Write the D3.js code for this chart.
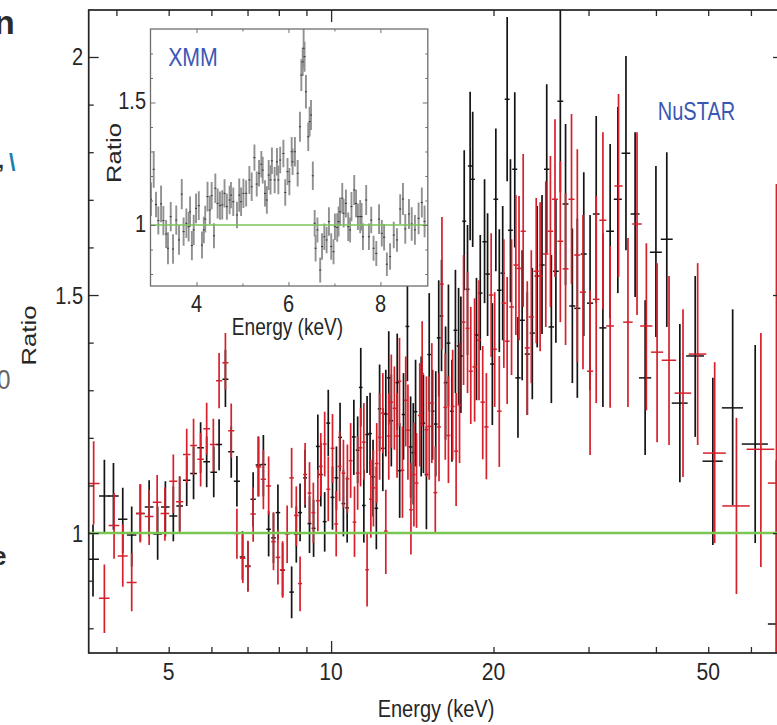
<!DOCTYPE html>
<html><head><meta charset="utf-8">
<script src="https://cdn.jsdelivr.net/npm/d3@7/dist/d3.min.js"></script>
<style>html,body{margin:0;padding:0;background:#fff}svg{display:block}text{font-family:"Liberation Sans",Arial,sans-serif}</style>
</head><body><svg id="c" width="777" height="725"></svg>
<script>
const blackEnergy=[3.62,3.80,3.95,4.11,4.27,4.43,4.60,4.77,4.93,5.10,
5.24,5.40,5.56,5.73,5.88,6.06,6.20,6.37,6.53,6.69,
6.85,7.01,7.17,7.33,7.49,7.66,7.82,7.97,8.13,8.45,
8.62,8.76,8.95,9.12,9.28,9.45,9.57,9.73,9.88,10.06,
10.23,10.39,10.54,10.71,11.02,11.2,11.35,11.5,11.66,11.81,
11.96,12.13,12.3,12.47,12.63,12.79,12.93,13.26,13.4,13.62,
13.85,14.04,14.2,14.34,14.69,14.83,15.02,15.2,15.42,15.63,
15.83,16.02,16.3,16.5,16.75,17,17.23,17.4,17.65,17.9,
18.1,18.3,18.6,18.9,19.25,19.5,19.9,20.2,20.5,20.8,
21.2,21.5,21.9,22.2,22.6,23.1,23.6,24.1,24.6,25.1,
25.6,26.1,26.6,27.2,28,28.6,29.4,30.2,31,31.9,
32.9,34,35.2,36.6,38.2,40,41.9,44.3,47.3,51,
55.5,61.1,66.9];
const blackRatio=[.945,1.078,1.078,1.029,.996,1.041,1.055,.998,1.055,1.036,
1.057,1.111,1.125,1.179,1.15,1.128,1.186,1.323,1.171,1.109,
.95,.931,1.071,1.143,1.144,1.008,.99,1.043,.922,.876,
.998,1.043,1.116,1.02,1.01,1.182,1.123,1.024,1.231,1.075,
1.116,1.201,1.062,1.053,1.202,1.174,1.306,1.058,1.207,1.209,
1.118,1.052,1.261,1.178,1.25,1.326,1.236,1.316,1.131,1.249,
1.434,1.181,1.169,1.255,1.231,1.231,1.123,1.375,1.256,1.229,
1.41,1.456,1.316,1.399,1.256,1.426,1.393,1.372,1.655,1.512,
1.771,1.743,1.416,1.504,1.612,1.544,1.355,1.701,1.51,1.546,
1.911,1.636,1.764,1.326,1.447,1.376,1.42,1.54,1.563,1.764,
1.433,1.55,1.907,1.691,1.477,1.472,1.586,1.483,1.67,1.431,
1.634,1.701,1.798,1.67,1.326,1.59,1.617,1.273,1.372,1.151,
1.263,1.187,.809];
const blackHigh=[1.018,1.154,1.147,1.095,1.056,1.102,1.111,1.056,1.109,1.098,
1.119,1.161,1.182,1.233,1.203,1.182,1.239,1.385,1.224,1.162,
1.004,.983,1.128,1.203,1.206,1.046,1.042,1.102,.979,.93,
1.056,1.104,1.175,1.077,1.07,1.249,1.189,1.086,1.301,1.14,
1.182,1.274,1.133,1.119,1.28,1.245,1.389,1.133,1.288,1.295,
1.196,1.14,1.354,1.263,1.343,1.424,1.333,1.419,1.231,1.336,
1.547,1.287,1.273,1.364,1.371,1.333,1.224,1.504,1.343,1.34,
1.531,1.574,1.434,1.522,1.364,1.553,1.515,1.497,1.804,1.647,
1.927,1.885,1.536,1.626,1.743,1.672,1.483,1.85,1.638,1.687,
2.084,1.785,1.926,1.454,1.594,1.506,1.557,1.687,1.71,1.943,
1.584,1.701,2.1,1.859,1.64,1.661,1.758,1.668,1.876,1.63,
1.817,1.895,2.002,1.842,1.489,1.771,1.8,1.439,1.54,1.326,
1.47,1.395,1.153];
const blackLow=[.867,1.001,1.007,.958,.93,.983,.993,.944,.993,.983,
1.004,1.057,1.071,1.126,1.096,1.075,1.132,1.265,1.116,1.056,
.902,.878,1.014,1.077,1.077,.951,.937,.986,.867,.821,
.938,.983,1.053,.958,.95,1.116,1.056,.961,1.162,1.007,
1.049,1.13,.993,.98,1.122,1.105,1.224,.98,1.126,1.122,
1.035,.966,1.172,1.088,1.161,1.228,1.14,1.217,1.032,1.154,
1.319,1.074,1.06,1.14,1.119,1.126,1.008,1.256,1.154,1.119,
1.287,1.34,1.196,1.266,1.15,1.294,1.27,1.252,1.51,1.374,
1.615,1.601,1.279,1.384,1.483,1.414,1.227,1.55,1.38,1.405,
1.739,1.485,1.6,1.2,1.321,1.248,1.281,1.39,1.418,1.588,
1.273,1.4,1.716,1.521,1.315,1.284,1.414,1.3,1.483,1.265,
1.451,1.504,1.594,1.496,1.164,1.412,1.433,1.107,1.202,.975,
1.059,.979,.733];
const blackHalfWidth=[.093,.086,.09,.082,.085,.082,.085,.088,.09,.087,
.075,.085,.08,.08,.084,.086,.08,.082,.084,.086,
.079,.08,.082,.084,.085,.075,.077,.078,.08,.083,
.085,.075,.075,.076,.078,.08,.08,.08,.082,.084,
.085,.085,.085,.086,.087,.088,.088,.09,.09,.09,
.095,.095,.095,.095,.1,.1,.1,.1,.1,.105,
.11,.11,.11,.11,.115,.115,.115,.12,.12,.12,
.13,.13,.13,.135,.135,.14,.14,.145,.15,.15,
.17,.17,.17,.18,.18,.19,.19,.2,.2,.2,
.22,.22,.23,.25,.25,.25,.26,.27,.28,.29,
.3,.32,.33,.34,.36,.37,.38,.4,.44,.48,
.55,.58,.65,.7,1,1.02,1.07,1.5,1.8,2.2,
2.5,3.4,2.4];

const redEnergy=[3.63,3.80,3.96,4.11,4.27,4.43,4.60,4.76,4.92,5.10,
5.24,5.40,5.56,5.73,5.88,6.05,6.20,6.37,6.53,6.69,
6.86,7.01,7.17,7.34,7.49,7.66,7.82,7.97,8.13,8.29,
8.45,8.62,8.76,8.95,9.12,9.27,9.45,9.57,9.73,9.88,
10.06,10.22,10.37,10.54,10.72,10.87,11.05,11.2,11.34,11.5,
11.66,11.85,11.98,12.15,12.3,12.47,12.63,12.79,12.93,13.1,
13.25,13.39,13.56,13.75,13.88,14.06,14.24,14.4,14.6,14.75,
15.02,15.2,15.37,15.6,15.85,16.05,16.28,16.5,16.8,17.05,
17.3,17.6,17.9,18.15,18.45,18.8,19.1,19.4,19.8,20.1,
20.5,20.9,21.2,21.6,22,22.3,22.7,23.1,23.5,24,
24.4,25,25.5,26,26.6,27.2,27.9,28.6,29.3,30.2,
31,31.9,32.9,34.1,35.5,36.9,38.4,40.2,42.3,44.9,
47.8,51.4,56.4,62.6,66.9];
const redRatio=[1.104,.863,1.016,.952,.896,1.041,1.035,1.065,1.041,1.109,
1.066,1.165,1.184,1.155,1.219,1.186,1.32,1.358,1.215,.999,
.947,.93,1.04,1.139,1.113,1.099,.982,.949,.923,.998,
1.116,1.037,.894,1.123,1.084,1.043,1.068,1.14,1.187,1.092,
1.178,1.019,1.14,1.126,1.114,1.152,1.023,1.126,1.179,1.191,
.923,1.071,1.095,1.146,1.201,1.252,1.004,1.204,1.275,1.262,
1.204,1.319,1.132,1.279,1.216,1.049,1.123,1.105,1.247,1.335,
1.217,1.224,1.273,1.085,1.223,1.523,1.264,1.205,1.266,1.172,
1.269,1.443,1.43,1.34,1.349,1.405,1.275,1.223,1.5,1.386,
1.256,1.483,1.403,1.475,1.563,1.556,1.634,1.389,1.454,1.55,
1.54,1.586,1.634,1.701,1.613,1.555,1.701,1.584,1.506,1.34,
1.491,1.657,1.435,1.729,1.443,1.649,1.435,1.38,1.363,1.294,
1.376,1.168,1.057,1.176,1.105];
const redHigh=[1.193,.934,1.084,1.018,.958,1.103,1.091,1.122,1.096,1.165,
1.119,1.219,1.24,1.21,1.274,1.24,1.378,1.42,1.272,1.051,
.999,.984,1.096,1.202,1.175,1.161,1.044,1.007,.983,1.058,
1.179,1.098,.951,1.189,1.149,1.106,1.133,1.21,1.255,1.161,
1.25,1.088,1.214,1.196,1.186,1.231,1.098,1.203,1.263,1.273,
1.0,1.154,1.175,1.231,1.294,1.336,1.091,1.294,1.375,1.35,
1.294,1.41,1.224,1.371,1.312,1.147,1.231,1.21,1.357,1.445,
1.329,1.329,1.399,1.182,1.336,1.664,1.378,1.329,1.385,1.294,
1.399,1.584,1.549,1.475,1.493,1.531,1.393,1.336,1.63,1.506,
1.372,1.617,1.538,1.617,1.71,1.708,1.796,1.529,1.594,1.704,
1.695,1.739,1.792,1.869,1.781,1.714,1.88,1.806,1.668,1.51,
1.708,1.842,1.603,1.922,1.62,1.842,1.609,1.567,1.54,1.47,
1.567,1.359,1.242,1.42,1.733];
const redLow=[1.018,.79,.946,.887,.836,.98,.975,1.001,.984,1.042,
1.001,1.105,1.122,1.098,1.165,1.13,1.262,1.301,1.158,.946,
.895,.877,.982,1.077,1.05,1.039,.922,.892,.864,.937,
1.053,.973,.836,1.059,1.021,.979,1.004,1.077,1.119,1.025,
1.105,.951,1.067,1.053,1.042,1.074,.95,1.049,1.098,1.112,
.846,.99,1.014,1.063,1.112,1.168,.914,1.112,1.179,1.175,
1.116,1.224,1.032,1.182,1.112,.955,1.014,1.011,1.14,1.224,
1.119,1.112,1.147,1.0,1.109,1.385,1.154,1.105,1.154,1.057,
1.147,1.311,1.294,1.229,1.234,1.279,1.155,1.113,1.37,1.265,
1.139,1.347,1.271,1.332,1.416,1.405,1.475,1.248,1.315,1.399,
1.382,1.433,1.475,1.538,1.443,1.395,1.523,1.359,1.344,1.164,
1.273,1.47,1.263,1.538,1.265,1.458,1.258,1.191,1.185,1.118,
1.185,.979,.872,.929,.69];
const redHalfWidth=[.093,.086,.09,.088,.09,.082,.085,.088,.09,.087,
.08,.085,.08,.08,.084,.086,.08,.082,.084,.086,
.079,.08,.082,.084,.085,.08,.077,.078,.08,.083,
.083,.085,.075,.075,.076,.078,.08,.08,.08,.082,
.084,.085,.085,.085,.086,.087,.088,.088,.09,.09,
.09,.095,.095,.095,.095,.1,.1,.1,.1,.1,
.105,.105,.11,.11,.11,.11,.11,.115,.115,.115,
.12,.12,.125,.13,.13,.13,.135,.135,.14,.14,
.145,.15,.15,.16,.17,.17,.18,.18,.19,.19,
.2,.2,.22,.22,.23,.25,.25,.25,.26,.27,
.28,.29,.3,.32,.33,.34,.36,.37,.38,.4,
.44,.48,.55,.6,.72,.75,1,1.05,1.3,1.6,
1.8,2.5,3.3,3.7,2.4];

const insetEnergy=[3.01,3.07,3.12,3.17,3.23,3.28,3.34,3.38,3.44,3.49,
3.56,3.62,3.68,3.72,3.78,3.83,3.86,3.90,3.94,3.99,
4.05,4.12,4.16,4.19,4.24,4.29,4.33,4.38,4.41,4.46,
4.51,4.56,4.61,4.66,4.72,4.75,4.80,4.88,4.93,4.97,
5.02,5.08,5.15,5.20,5.26,5.31,5.36,5.41,5.44,5.49,
5.53,5.57,5.61,5.64,5.70,5.75,5.78,5.82,5.89,5.93,
5.98,6.02,6.07,6.09,6.14,6.20,6.25,6.28,6.31,6.33,
6.35,6.38,6.43,6.46,6.49,6.53,6.57,6.59,6.63,6.69,
6.73,6.78,6.83,6.88,6.93,6.98,7.01,7.06,7.09,7.12,
7.17,7.20,7.25,7.30,7.34,7.37,7.43,7.47,7.51,7.56,
7.59,7.62,7.69,7.75,7.80,7.85,7.91,7.97,8.03,8.08,
8.14,8.21,8.29,8.36,8.43,8.49,8.54,8.62,8.68,8.75,
8.83,8.90,8.96];
const insetRatio=[1.105,1.227,1.084,1.018,1.086,1.018,.963,.905,1.034,.902,
1.02,.939,1.126,.973,1.007,.993,1.054,.916,.98,1.068,
1.079,.918,.98,1.024,1.116,1.061,1.12,.956,1.15,1.088,
1.079,1.082,1.129,1.075,1.102,1.122,1.095,1.041,1.122,1.095,
1.129,1.129,1.184,1.156,1.275,1.167,1.211,1.248,1.224,1.129,
1.102,1.204,1.184,1.262,1.184,1.258,1.184,1.265,1.292,1.133,
1.218,1.177,1.299,1.258,1.299,1.211,1.401,1.612,1.666,1.721,
1.687,1.544,1.36,1.422,1.449,1.201,1.007,.905,.98,.816,
.912,.952,.939,1.014,.912,.891,.993,.99,1.014,1.054,
1.109,1.048,1.088,.993,.98,1.075,1.143,1.088,1.034,1.034,
1.034,.952,1.102,.952,1.02,.905,.884,1.024,.966,.95,
.84,.871,.959,.939,1.065,1.106,.984,1.045,1.004,.98,
1.027,1.092,1.015];
const insetError=[.068,.075,.052,.057,.075,.06,.057,.065,.06,.06,
.06,.06,.062,.058,.06,.06,.062,.06,.062,.061,
.059,.055,.054,.055,.061,.058,.056,.051,.06,.061,
.058,.06,.058,.054,.058,.054,.058,.054,.068,.058,
.06,.054,.057,.058,.054,.051,.054,.054,.055,.054,
.056,.061,.06,.054,.054,.056,.058,.054,.056,.054,
.055,.056,.06,.054,.06,.054,.061,.065,.058,.08,
.061,.068,.058,.061,.061,.058,.054,.054,.051,.051,
.054,.054,.054,.058,.054,.051,.054,.058,.061,.058,
.062,.058,.057,.058,.051,.06,.061,.056,.054,.068,
.056,.054,.061,.054,.054,.051,.051,.061,.054,.054,
.048,.054,.054,.048,.061,.065,.061,.061,.068,.061,
.065,.061,.065];

const mainXMajor=[10];
const mainXMinor=[4,5,6,7,8,9,20,30,40,50,60];
const mainXLabels=[5,10,20,50];
const mainYMajor=[1,1.5,2];
const mainYMinor=[.8,.9,1.1,1.2,1.3,1.4,1.6,1.7,1.8,1.9];
const mainYLabels=["1","1.5","2"];
const insetXMajor=[4,6,8];
const insetXMinor=[5,7];
const insetYMajor=[1,1.5];
const insetYMinor=[.8,.9,1.1,1.2,1.3,1.4,1.6,1.7];
const insetYLabels=["1","1.5"];

const svg=d3.select("#c");
const L=88.7,T=10,B=653,R=783;
const x=d3.scaleLog().domain([3.554,68.8]).range([L,R]);
const y=d3.scaleLinear().domain([.7481,2.0987]).range([B,T]);
const ink="#262626", black="#141414", red="#d6202c", green="#79c653", blue="#3b57b5";

function label(str,px,py,o={}){
  const g=svg.append("text").text(str)
   .attr("transform",`translate(${px},${py}) rotate(${o.rot||0}) scale(${o.sx||.87},1)`)
   .attr("text-anchor",o.anchor||"middle").attr("font-size",o.size||23)
   .attr("fill",o.fill||ink);
  if(o.weight)g.attr("font-weight",o.weight);
  return g;
}
function axes(gr,xs,ys,w,h,xMaj,xMin,yMaj,yMin,lenMaj,lenMin,lenYMaj,lenYMin,col,sw){
  const add=(ax,tr)=>{const a=gr.append("g").attr("transform",tr).call(ax);
    a.select(".domain").remove();a.selectAll("text").remove();
    a.selectAll("line").attr("stroke",col).attr("stroke-width",sw);};
  const [x0,x1]=xs.range(),[y1,y0]=ys.range();
  [[xMaj,lenMaj],[xMin,lenMin]].forEach(([v,l])=>{
    add(d3.axisBottom(xs).tickValues(v).tickSize(-l),`translate(0,${y1})`);
    add(d3.axisTop(xs).tickValues(v).tickSize(-l),`translate(0,${y0})`);
  });
  [[yMaj,lenYMaj],[yMin,lenYMin]].forEach(([v,l])=>{
    add(d3.axisLeft(ys).tickValues(v).tickSize(-l),`translate(${x0},0)`);
    add(d3.axisRight(ys).tickValues(v).tickSize(-l),`translate(${x1},0)`);
  });
}

// neighbouring text cut by the left edge of the crop
label("n",-6,34,{size:34,weight:"bold",anchor:"start",sx:1,fill:"#2b2b2b"});
label(",",-2,168,{size:22,weight:"bold",anchor:"start",sx:1,fill:"#333"});
label("\\",9,171,{size:23,weight:"bold",anchor:"start",sx:1,fill:"#1b7fae"});
label("0",-3,389,{size:27,anchor:"start",sx:.9,fill:"#666"});
label("e",-8,565,{size:26,weight:"bold",anchor:"start",sx:1,fill:"#2b2b2b"});

// main plot
svg.append("clipPath").attr("id","mc").append("rect").attr("x",L).attr("y",T).attr("width",R-L).attr("height",B-T);
const plot=svg.append("g").attr("clip-path","url(#mc)");
function series(name,E,Rt,Hi,Lo,HW,col){
  const rows=d3.range(E.length).map(i=>({e:E[i],r:Rt[i],h:Hi[i],l:Lo[i],w:HW[i]}));
  const g=plot.append("g").attr("class",name).attr("stroke",col).attr("fill","none");
  g.selectAll(".v").data(rows).join("line").attr("class","v")
    .attr("x1",d=>x(d.e)).attr("x2",d=>x(d.e)).attr("y1",d=>y(d.h)).attr("y2",d=>y(d.l)).attr("stroke-width",1.7);
  g.selectAll(".h").data(rows).join("line").attr("class","h")
    .attr("x1",d=>x(d.e-d.w)).attr("x2",d=>x(d.e+d.w)).attr("y1",d=>y(d.r)).attr("y2",d=>y(d.r)).attr("stroke-width",1.5);
}
series("black",blackEnergy,blackRatio,blackHigh,blackLow,blackHalfWidth,black);
series("red",redEnergy,redRatio,redHigh,redLow,redHalfWidth,red);
plot.append("line").attr("x1",L).attr("x2",R).attr("y1",y(1)).attr("y2",y(1)).attr("stroke",green).attr("stroke-width",2.6);

const mainAxes=svg.append("g");
axes(mainAxes,x,y,0,0,mainXMajor,mainXMinor,mainYMajor,mainYMinor,12,6,10,5,"#2a2a2a",1.3);
svg.append("rect").attr("x",L).attr("y",T).attr("width",R-L).attr("height",B-T).attr("fill","none").attr("stroke","#222").attr("stroke-width",1.7);

mainXLabels.forEach(v=>label(String(v),x(v),680,{sx:.92}));
mainYLabels.forEach(s=>label(s,83,y(+s)+8.5,{anchor:"end"}));
label("Energy (keV)",436,717);
label("Ratio",36,335.5,{rot:-90,size:21,sx:1.22});
label("NuSTAR",696.5,120,{size:25,sx:.8,fill:blue});

// inset
const iL=150.5,iR=427.8,iT=29,iB=286;
const ix=d3.scaleLinear().domain([3,9.03]).range([iL,iR]);
const iy=d3.scaleLinear().domain([.751,1.8]).range([iB,iT]);
svg.append("rect").attr("x",iL).attr("y",iT).attr("width",iR-iL).attr("height",iB-iT).attr("fill","#fff");
svg.append("clipPath").attr("id","ic").append("rect").attr("x",iL).attr("y",iT).attr("width",iR-iL).attr("height",iB-iT);
const inset=svg.append("g").attr("clip-path","url(#ic)");
const iRows=d3.range(insetEnergy.length).map(i=>({e:insetEnergy[i],r:insetRatio[i],s:insetError[i]}));
inset.selectAll(".iv").data(iRows).join("line").attr("class","iv")
  .attr("x1",d=>ix(d.e)).attr("x2",d=>ix(d.e)).attr("y1",d=>iy(d.r+d.s)).attr("y2",d=>iy(d.r-d.s))
  .attr("stroke","#919191").attr("stroke-width",1.9);
inset.selectAll(".ih").data(iRows).join("line").attr("class","ih")
  .attr("x1",d=>ix(d.e-.022)).attr("x2",d=>ix(d.e+.022)).attr("y1",d=>iy(d.r)).attr("y2",d=>iy(d.r))
  .attr("stroke","#333").attr("stroke-width",1);
inset.append("line").attr("x1",iL).attr("x2",iR).attr("y1",iy(1)).attr("y2",iy(1)).attr("stroke",green).attr("stroke-width",1.4);
const insetAxes=svg.append("g");
axes(insetAxes,ix,iy,0,0,insetXMajor,insetXMinor,insetYMajor,insetYMinor,4,2.5,5,2.5,"#707070",1);
svg.append("rect").attr("x",iL).attr("y",iT).attr("width",iR-iL).attr("height",iB-iT).attr("fill","none").attr("stroke","#6e6e6e").attr("stroke-width",1.3);

insetXMajor.forEach(v=>label(String(v),ix(v),311.5));
insetYLabels.forEach(s=>label(s,146,iy(+s)+7,{anchor:"end"}));
label("Energy (keV)",287.5,335,{sx:.83});
label("Ratio",121,153,{rot:-90,size:21,sx:1.22});
label("XMM",193,65.5,{size:26,sx:.82,fill:blue});
</script></body></html>
